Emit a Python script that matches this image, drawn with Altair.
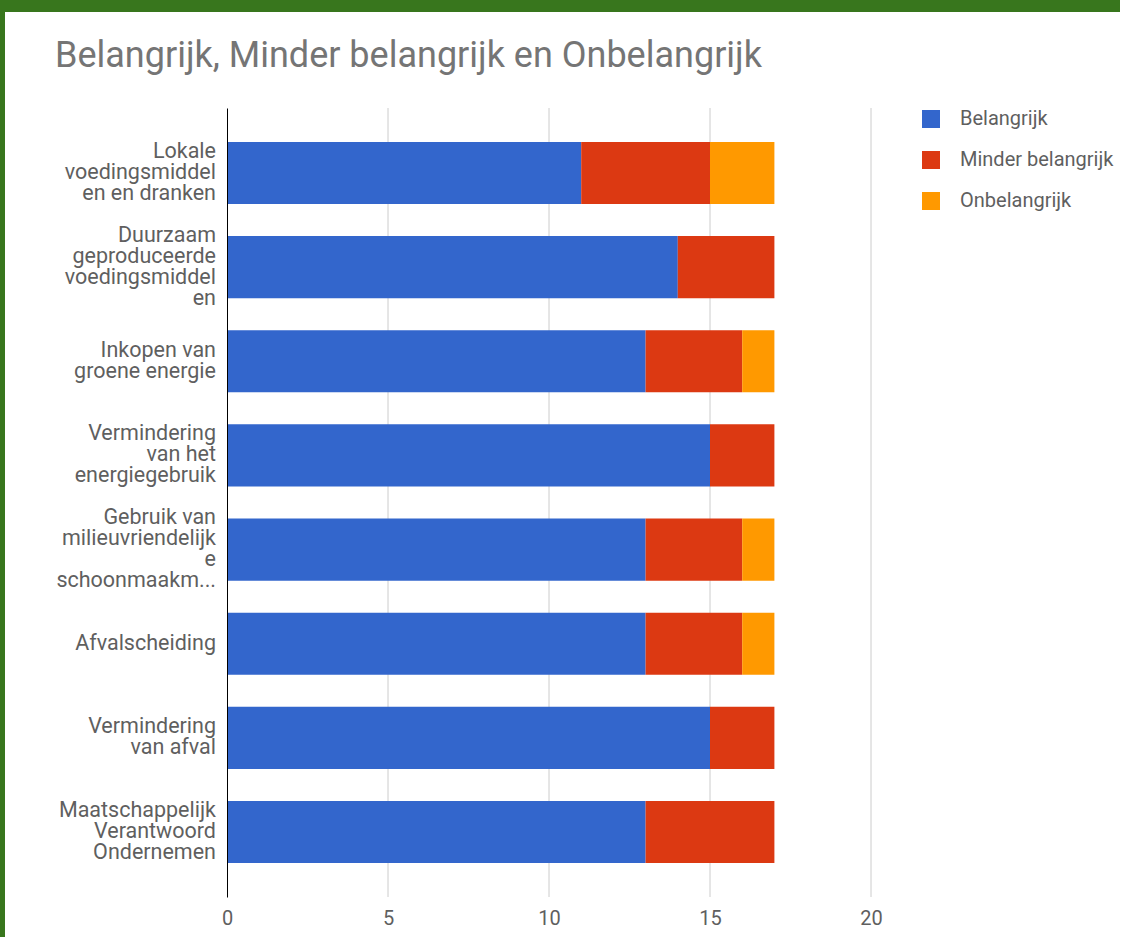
import altair as alt
import pandas as pd

categories = [
    "Lokale|voedingsmiddel|en en dranken",
    "Duurzaam|geproduceerde|voedingsmiddel|en",
    "Inkopen van|groene energie",
    "Vermindering|van het|energiegebruik",
    "Gebruik van|milieuvriendelijk|e|schoonmaakm...",
    "Afvalscheiding",
    "Vermindering|van afval",
    "Maatschappelijk|Verantwoord|Ondernemen",
]
series = ["Belangrijk", "Minder belangrijk", "Onbelangrijk"]
belangrijk = [11, 14, 13, 15, 13, 13, 15, 13]
minder_belangrijk = [4, 3, 3, 2, 3, 3, 2, 4]
onbelangrijk = [2, 0, 1, 0, 1, 1, 0, 0]
colors = ["#3366cc", "#dc3912", "#ff9900"]
x_ticks = [0, 5, 10, 15, 20]
title_text = "Belangrijk, Minder belangrijk en Onbelangrijk"

rows = []
for i, c in enumerate(categories):
    for k, (s, vals) in enumerate(zip(series, [belangrijk, minder_belangrijk, onbelangrijk])):
        rows.append({"cat": c, "series": s, "value": vals[i], "order": k})
df = pd.DataFrame(rows)

W, H = 644, 789
LH = 21
P_IN, P_OUT = 0.34, 0.36
step = H / (len(categories) - P_IN + 2 * P_OUT)
bandwidth = step * (1 - P_IN)
label_df = pd.DataFrame({
    "cat": categories,
    "off": [bandwidth / 2 - (len(c.split("|")) - 1) * LH / 2 for c in categories],
})

xscale = alt.Scale(domain=[0, 20], nice=False)
yscale = alt.Scale(paddingInner=P_IN, paddingOuter=P_OUT)
xaxis = alt.Axis(
    values=x_ticks, title=None, grid=False, domain=False, ticks=False,
    labelFontSize=20, labelColor="#5f5f5f", labelPadding=11, zindex=1,
    labelFont="Roboto", labelFlush=False,
)
yaxis = alt.Axis(
    title=None, grid=False, ticks=False, labels=False, domain=True,
    domainColor="#000000", domainWidth=1, zindex=1,
)

bg = alt.Chart(pd.DataFrame({"a": [0]})).mark_rect(color="white").encode(
    x=alt.value(-222), x2=alt.value(893), y=alt.value(-96), y2=alt.value(H + 40)
)

grid = alt.Chart(pd.DataFrame({"t": x_ticks[1:]})).mark_rule(color="#cccccc", strokeWidth=1).encode(
    x=alt.X("t:Q", scale=xscale, axis=xaxis),
    y=alt.value(0),
    y2=alt.value(H),
)

bars = alt.Chart(df).mark_bar().encode(
    x=alt.X("value:Q", stack="zero", scale=xscale, axis=xaxis),
    y=alt.Y("cat:N", sort=categories, scale=yscale, axis=yaxis),
    color=alt.Color(
        "series:N",
        scale=alt.Scale(domain=series, range=colors),
        legend=alt.Legend(
            orient="none", legendX=694, legendY=1, title=None, symbolType="square",
            symbolSize=324, symbolStrokeWidth=0, symbolOpacity=1, labelFontSize=20,
            labelColor="#5f5f5f", rowPadding=21, labelOffset=19, labelFont="Roboto",
        ),
    ),
    order=alt.Order("order:Q"),
)

labels = alt.Chart(label_df).mark_text(
    align="right", baseline="middle", fontSize=21.5, color="#5f5f5f",
    font="Roboto", lineBreak="|", lineHeight=LH,
).encode(
    x=alt.value(-11),
    y=alt.Y("cat:N", sort=categories, scale=yscale, axis=yaxis),
    yOffset=alt.YOffset("off:Q", scale=None),
    text="cat:N",
)

title = alt.Chart(pd.DataFrame({"a": [0]})).mark_text(
    align="left", baseline="alphabetic", fontSize=36, color="#757575", font="Roboto"
).encode(x=alt.value(-172), y=alt.value(-41), text=alt.value(title_text))

chart = alt.layer(bg, grid, bars, labels, title).properties(
    width=W, height=H,
    background="#38761d",
    padding={"left": 5, "top": 12, "right": 0, "bottom": 0},
).configure_view(stroke=None).configure(font="Roboto")

chart.save("out.html", embed_options={"renderer": "svg", "actions": False})
